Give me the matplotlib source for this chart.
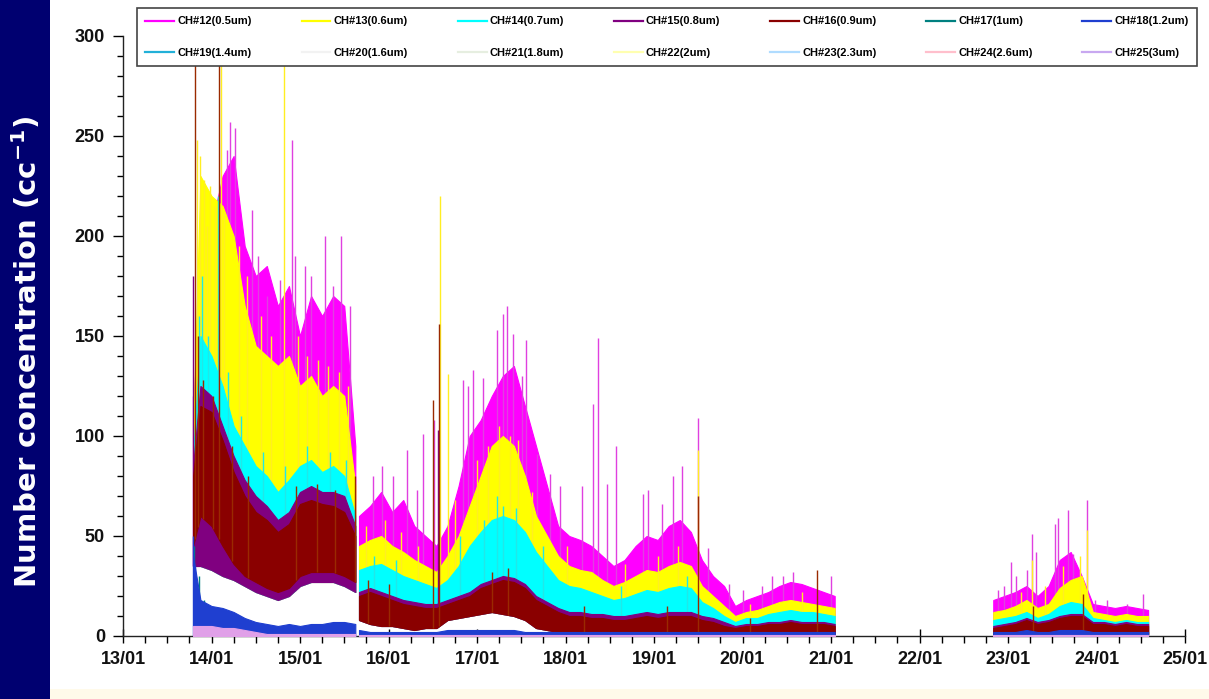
import numpy as np
import matplotlib
matplotlib.use('Agg')
import matplotlib.pyplot as plt
from matplotlib.lines import Line2D
from matplotlib.patches import Rectangle

# sampling hours (since 13/01 00:00) for the three measurement periods
hours_p1 = [19, 21, 24, 27, 30, 33, 36, 39, 42, 45, 48, 51, 54, 57, 60, 63]
hours_p2 = list(range(64, 194, 3))
hours_p3 = list(range(236, 279, 3))

# upper envelope of each channel (cc-1), period 1 / period 2 / period 3
ch12_hi = [110, 185, 205, 230, 240, 195, 180, 185, 165, 175, 150, 170, 160, 170, 165, 95,
           60, 65, 72, 62, 68, 55, 50, 45, 55, 75, 100, 108, 120, 130, 135, 115, 95, 75, 55, 50,
           48, 45, 40, 35, 38, 45, 50, 48, 55, 58, 52, 38, 30, 25, 15, 18, 20, 22, 25, 27,
           26, 24, 22, 20,
           18, 20, 22, 25, 20, 25, 38, 42, 30, 16, 15, 14, 15, 14, 13]
ch13_hi = [100, 230, 220, 215, 200, 165, 145, 140, 135, 140, 125, 130, 120, 125, 120, 75,
           45, 48, 50, 45, 42, 38, 35, 32, 40, 50, 65, 80, 95, 100, 95, 80, 60, 50, 40, 35,
           33, 32, 28, 25, 27, 30, 33, 32, 35, 37, 35, 25, 20, 15, 10, 12, 13, 15, 17, 18,
           17, 16, 15, 14,
           12, 13, 15, 18, 14, 16, 24, 28, 30, 12, 11, 10, 11, 10, 10]
ch14_hi = [90, 150, 140, 125, 105, 95, 85, 80, 72, 78, 85, 88, 82, 85, 80, 60,
           33, 35, 36, 33, 30, 28, 26, 24, 28, 35, 45, 52, 58, 60, 58, 52, 42, 35, 28, 25,
           24, 22, 20, 18, 19, 21, 23, 22, 24, 25, 24, 17, 14, 10, 7, 9, 9, 11, 12, 13,
           12, 12, 11, 10,
           8, 9, 10, 12, 9, 11, 15, 17, 16, 9, 8, 7, 8, 7, 7]
ch15_hi = [85, 125, 120, 105, 90, 78, 70, 65, 58, 62, 72, 75, 72, 72, 70, 55,
           22, 24, 22, 20, 18, 17, 16, 16, 18, 20, 22, 26, 28, 30, 29, 26, 20, 17, 14, 12,
           12, 11, 11, 10, 10, 11, 12, 11, 12, 12, 12, 10, 9, 7, 5, 6, 6, 7, 7, 8,
           7, 7, 7, 6,
           5, 6, 7, 9, 7, 8, 10, 11, 11, 7, 7, 6, 7, 6, 6]
ch16_hi = [80, 115, 112, 98, 82, 70, 62, 58, 52, 56, 66, 68, 66, 65, 62, 50,
           20, 22, 20, 18, 16, 15, 14, 14, 16, 18, 20, 24, 26, 28, 27, 24, 18, 15, 12, 10,
           10, 9, 9, 8, 8, 9, 10, 9, 10, 10, 10, 8, 7, 5, 4, 5, 5, 6, 6, 7,
           6, 6, 6, 5,
           4, 5, 6, 8, 6, 7, 9, 10, 10, 6, 6, 5, 6, 5, 5]
ch18_hi = [40, 18, 15, 14, 12, 9, 7, 6, 5, 6, 5, 6, 6, 7, 7, 6,
           3, 2, 2, 2, 2, 2, 2, 2, 3, 3, 3, 3, 3, 3, 3, 2, 2, 2, 2, 2,
           2, 2, 2, 2, 2, 2, 2, 2, 2, 2, 2, 2, 2, 2, 2, 2, 2, 2, 2, 2,
           2, 2, 2, 2,
           2, 2, 2, 3, 2, 2, 3, 3, 3, 2, 2, 2, 2, 2, 2]
ch25_hi = [5, 5, 5, 4, 4, 3, 2, 1, 1, 1, 1, 1, 1, 1, 1, 1] + [0.5] * 59

# lower envelopes: CH16 and the common floor of CH12-CH15
ch16_lo = [45, 60, 55, 45, 36, 30, 27, 24, 22, 24, 30, 32, 32, 32, 30, 27,
           8, 6, 5, 5, 4, 3, 4, 4, 8, 9, 10, 11, 12, 11, 10, 8, 4, 3, 2, 2,
           2, 2, 2, 2, 2, 2, 2, 2, 2, 2, 2, 2, 1, 1, 1, 1, 1, 1, 1, 1,
           1, 1, 1, 1,
           1, 1, 1, 1, 1, 1, 1, 1, 1, 1, 1, 1, 1, 1, 1]
band_floor = [35, 35, 33, 30, 28, 25, 22, 20, 18, 20, 25, 27, 27, 27, 25, 22,
              8, 6, 5, 5, 4, 3, 4, 4, 8, 9, 10, 11, 12, 11, 10, 8, 4, 3, 2, 2,
              2, 2, 2, 2, 2, 2, 2, 2, 2, 2, 2, 2, 1, 1, 1, 1, 1, 1, 1, 1,
              1, 1, 1, 1,
              1, 1, 1, 1, 1, 1, 1, 1, 1, 1, 1, 1, 1, 1, 1]

# short peaks (hour, value)
ch12_spike_hours = [19.0, 28.2, 29.0, 30.4, 35.0, 36.6, 39.1, 42.6, 45.8, 46.6, 49.4, 51.0,
                    54.8, 56.9, 59.1, 61.6,
                    67.8, 70.2, 73.2, 77.0, 79.7, 81.4, 84.3, 92.2, 93.6, 94.9, 97.6, 101.4,
                    103.1, 104.1, 105.8, 108.2, 109.3, 112.3, 115.8, 118.5, 124.5, 127.5,
                    128.8, 131.3, 133.7, 141.0, 142.4, 146.2, 149.2, 151.6, 155.9, 158.6,
                    164.3, 168.1, 173.3, 176.0, 179.0, 181.7, 192.0,
                    237.3, 238.9, 240.8, 242.2, 245.2, 246.5, 247.6, 252.7, 253.6, 256.3,
                    257.6, 261.4, 263.6, 266.8, 272.3, 276.6]
ch12_spike_values = [120, 243, 257, 254, 213, 190, 170, 178, 248, 190, 185, 180,
                     200, 175, 200, 165,
                     80, 85, 80, 93, 73, 101, 108, 128, 125, 133, 129, 153,
                     161, 165, 151, 130, 148, 91, 81, 75, 75, 116,
                     149, 76, 95, 71, 73, 66, 80, 85, 109, 44,
                     26, 23, 25, 30, 30, 32, 30,
                     23, 25, 37, 30, 33, 51, 42, 56, 59, 63,
                     41, 68, 18, 18, 16, 21]
ch13_spike_hours = [20.1, 20.8, 22.0, 22.8, 23.5, 25.0, 26.6, 27.5, 31.5, 33.5, 37.5, 40.0,
                    43.7, 47.5, 50.0, 53.0, 55.5, 58.5, 61.0,
                    66.0, 71.0, 75.5, 80.0, 86.0, 88.1, 90.0, 96.0, 99.0, 102.0, 105.0,
                    107.0, 111.0, 120.5, 136.0, 145.0, 150.5, 155.9, 170.0, 184.0,
                    243.5, 246.5, 250.0, 255.0, 259.5, 261.4]
ch13_spike_values = [248, 240, 228, 205, 225, 215, 300, 212, 195, 180, 160, 150,
                     300, 150, 140, 138, 135, 132, 125,
                     55, 58, 52, 45, 220, 131, 68, 88, 95, 105, 100,
                     98, 72, 45, 36, 40, 45, 93, 16, 22,
                     22, 38, 25, 35, 40, 53]
ch14_spike_hours = [20.5, 21.5, 23.0, 25.8, 28.5, 32.0, 38.0, 44.0, 50.0, 56.0, 60.5,
                    68.0, 74.0, 91.5, 98.0, 101.4, 103.1, 106.5, 114.0, 135.0, 153.0]
ch14_spike_values = [160, 180, 150, 220, 132, 110, 92, 85, 95, 92, 88,
                     40, 38, 50, 58, 70, 65, 64, 45, 25, 30]
ch15_spike_hours = [19.0, 85.5]
ch15_spike_values = [180, 103]
ch16_spike_hours = [19.5, 20.3, 21.8, 24.5, 26.0, 29.5, 34.0, 47.0, 52.5, 57.5, 62.9,
                    66.5, 72.0, 84.0, 85.7, 100.0, 104.5, 125.0, 147.5, 155.9, 170.0,
                    188.2, 246.8, 260.3]
ch16_spike_values = [300, 150, 128, 120, 300, 95, 80, 75, 76, 73, 80,
                     28, 26, 118, 156, 32, 34, 15, 15, 70, 9,
                     33, 15, 21]
ch17_spike_hours = [19.3, 20.5, 22.0]
ch17_spike_values = [45, 30, 18]
ch18_spike_hours = [19.0, 19.6]
ch18_spike_values = [50, 35]

channels = ['CH#12(0.5um)', 'CH#13(0.6um)', 'CH#14(0.7um)', 'CH#15(0.8um)', 'CH#16(0.9um)',
            'CH#17(1um)', 'CH#18(1.2um)', 'CH#19(1.4um)', 'CH#20(1.6um)', 'CH#21(1.8um)',
            'CH#22(2um)', 'CH#23(2.3um)', 'CH#24(2.6um)', 'CH#25(3um)']
colors = ['#ff00ff', '#ffff00', '#00ffff', '#800080', '#8a0000', '#008080', '#1f3fd0',
          '#22b0d8', '#f2f2f2', '#e6eee0', '#ffffb0', '#b0dcff', '#ffbfcc', '#c8a8f0']
day_labels = ['13/01', '14/01', '15/01', '16/01', '17/01', '18/01', '19/01',
              '20/01', '21/01', '22/01', '23/01', '24/01', '25/01']

hours = np.array(hours_p1 + hours_p2 + hours_p3, float)
days = hours / 24.0
periods = [slice(0, 16), slice(16, 60), slice(60, 75)]

fig = plt.figure(figsize=(12.09, 6.99), dpi=100)
fig.patch.set_facecolor('white')
fig.patches.append(Rectangle((0, 0), 50 / 1209, 1, transform=fig.transFigure,
                             facecolor='#000070', edgecolor='none', zorder=0))
fig.patches.append(Rectangle((50 / 1209, 0), 1, 10 / 699, transform=fig.transFigure,
                             facecolor='#fffaea', edgecolor='none', zorder=0))

ax = fig.add_axes([123 / 1209, 1 - 636 / 699, (1185 - 123) / 1209, 600 / 699])


def band(lo, hi, color, z):
    lo = np.asarray(lo, float)
    hi = np.asarray(hi, float)
    for sl in periods:
        ax.fill_between(days[sl], lo[sl], hi[sl], facecolor=color, edgecolor=color,
                        lw=0.8, zorder=z)


def spikes(hrs, vals, color, z, floor=None):
    hrs = np.array(hrs, float)
    base = np.zeros_like(hrs) if floor is None else np.interp(hrs, hours, floor)
    ax.vlines(hrs / 24.0, base, vals, colors=color, lw=1.0, zorder=z)


band(band_floor, ch12_hi, colors[0], 2)
spikes(ch12_spike_hours, ch12_spike_values, '#e040e0', 2.1, band_floor)
band(band_floor, ch13_hi, colors[1], 3)
spikes(ch13_spike_hours, ch13_spike_values, '#ffee22', 3.1, band_floor)
band(band_floor, ch14_hi, colors[2], 4)
spikes(ch14_spike_hours, ch14_spike_values, '#20e8e8', 4.1, band_floor)
band(band_floor, ch15_hi, colors[3], 5)
spikes(ch15_spike_hours, ch15_spike_values, colors[3], 5.1, band_floor)
band(ch16_lo, ch16_hi, colors[4], 6)
spikes(ch16_spike_hours, ch16_spike_values, '#9a2a00', 6.1, ch16_lo)
spikes(ch17_spike_hours, ch17_spike_values, colors[5], 7.1)
band([0] * 75, ch18_hi, colors[6], 8)
spikes(ch18_spike_hours, ch18_spike_values, colors[6], 8.1)
band([0] * 75, ch25_hi, '#e0a0e8', 9)

ax.set_xlim(0, 12)
ax.set_ylim(0, 300)
ax.spines['top'].set_visible(False)
ax.spines['right'].set_visible(False)
for s in ('left', 'bottom'):
    ax.spines[s].set_linewidth(1.0)
    ax.spines[s].set_color('#222222')

ax.set_xticks(range(13))
ax.set_xticks(np.arange(0, 12.01, 0.25), minor=True)
ax.set_xticklabels(day_labels)
ax.set_yticks(range(0, 301, 50))
ax.set_yticks(range(0, 301, 10), minor=True)
ax.tick_params(axis='x', which='major', direction='inout', length=10, width=1, pad=6)
ax.tick_params(axis='x', which='minor', direction='out', length=5, width=1)
ax.tick_params(axis='y', which='major', direction='out', length=7, width=1, pad=6)
ax.tick_params(axis='y', which='minor', direction='out', length=4, width=1)
for lab in ax.get_xticklabels() + ax.get_yticklabels():
    lab.set_fontfamily('Liberation Sans')
    lab.set_fontweight('bold')
    lab.set_fontsize(13)
    lab.set_color('#111111')

fig.text(27 / 1209, 1 - 352 / 699, r'Number concentration (cc$^{\mathbf{-1}}$)',
         rotation=90, ha='center', va='center', color='white',
         fontsize=21, fontweight='bold', family='DejaVu Sans')

# legend laid out row by row: CH12-CH18 on top, CH19-CH25 below
handles = [Line2D([], [], color=c, lw=1.6) for c in colors]
order = []
for i in range(7):
    order += [i, i + 7]
leg = fig.legend([handles[i] for i in order], [channels[i] for i in order],
                 ncol=7, loc='lower left', mode='expand',
                 bbox_to_anchor=(131 / 1209, 1 - 72 / 699, (1203 - 131) / 1209, 64 / 699),
                 bbox_transform=fig.transFigure, frameon=True, fancybox=False,
                 framealpha=1, edgecolor='#444444', handlelength=2.6, handletextpad=0.3,
                 labelspacing=1.9, borderpad=0.8,
                 prop={'family': 'Liberation Sans', 'weight': 'bold', 'size': 8})
leg.get_frame().set_linewidth(1.2)
leg.set_zorder(20)

fig.savefig('out.png', dpi=100)
